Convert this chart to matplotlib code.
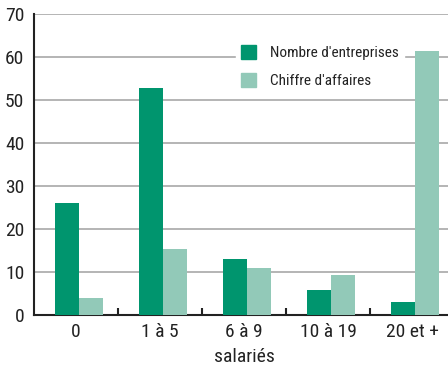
import matplotlib
matplotlib.use("Agg")
import matplotlib.pyplot as plt
import numpy as np
from matplotlib.patches import Patch

categories = ["0", "1 à 5", "6 à 9", "10 à 19", "20 et +"]
nombre_entreprises = [26, 52.8, 13, 5.8, 3]
chiffre_affaires = [4, 15.3, 10.9, 9.3, 61.4]

dark = "#00956e"
light = "#92c9b8"
plt.rcParams["font.family"] = ["Roboto Condensed", "DejaVu Sans"]

W, H = 448, 368
fig = plt.figure(figsize=(W / 100, H / 100), dpi=100)
ax = fig.add_axes([34 / W, 1 - 315 / H, 420 / W, 301 / H])

x = np.arange(len(categories))
bw = 0.285
off = 0.04
ax.bar(x + off - bw / 2, nombre_entreprises, bw, color=dark, zorder=3)
ax.bar(x + off + bw / 2, chiffre_affaires, bw, color=light, zorder=3)

ax.set_xlim(-0.5, 4.5)
ax.set_ylim(0, 70)
ax.set_yticks(range(0, 71, 10))
ax.yaxis.grid(True, color="#a8a8a8", linewidth=1.2, zorder=0)
ax.tick_params(axis="y", length=0, labelsize=14, colors="#222222", pad=7)

ax.set_xticks(np.arange(0.5, 4.5, 1.0))
ax.set_xticklabels([])
ax.tick_params(axis="x", direction="in", length=5, width=1.5, color="#222222")
for i, c in enumerate(categories):
    ax.text(i, -3.9, c, ha="center", va="center", fontsize=14, color="#222222")
ax.text(2, -9.7, "salariés", ha="center", va="center", fontsize=14, color="#222222")

for s in ["top", "right"]:
    ax.spines[s].set_visible(False)
for s in ["left", "bottom"]:
    ax.spines[s].set_linewidth(1.5)
    ax.spines[s].set_color("#222222")

handles = [Patch(color=dark, label="Nombre d'entreprises"),
           Patch(color=light, label="Chiffre d'affaires")]
leg = ax.legend(handles=handles, loc="upper left", bbox_to_anchor=(0.48, 0.915),
                frameon=True, framealpha=1, edgecolor="white", facecolor="white",
                fontsize=11, handlelength=1.0, handleheight=1.0,
                handletextpad=0.9, labelspacing=0.85, borderpad=0.35,
                borderaxespad=0)
leg.set_zorder(5)
for t in leg.get_texts():
    t.set_color("#222222")

fig.savefig("out.png", dpi=100, facecolor="white")
